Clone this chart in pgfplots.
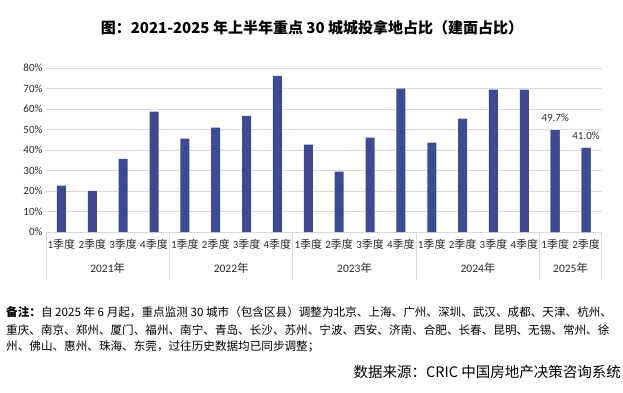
\documentclass[border=0pt]{standalone}
\usepackage{pgfplots}
\pgfplotsset{compat=1.18}
\usepackage{fontspec}
\setmainfont{Carlito}
\newfontfamily\cjk{Noto Sans CJK SC}
\definecolor{barblue}{RGB}{60,75,146}
\definecolor{gridgray}{RGB}{217,217,217}
\definecolor{txt}{RGB}{40,40,40}
\begin{document}
\begin{tikzpicture}
\path[use as bounding box] (0pt,0pt) rectangle (623pt,392pt);
\node[font=\cjk\bfseries\fontsize{15}{17}\selectfont] at (312pt,364pt) {图：2021-2025 年上半年重点 30 城城投拿地占比（建面占比）};
\begin{axis}[at={(46pt,160pt)}, anchor=south west,
  scale only axis, width=555.5pt, height=164pt,
  xmin=-0.5, xmax=17.5, ymin=0, ymax=80,
  ybar, bar width=9pt, bar shift=0pt,
  axis lines*=left, y axis line style={draw=none},
  x axis line style={draw=gridgray, line width=0.8pt},
  ymajorgrids, grid style={gridgray, line width=0.8pt},
  ytick={0,10,...,80}, yticklabel={\pgfmathprintnumber{\tick}\%},
  major tick length=0pt,
  xtick={0,...,17},
  xticklabels={{1{\cjk 季度}},{2{\cjk 季度}},{3{\cjk 季度}},{4{\cjk 季度}},{1{\cjk 季度}},{2{\cjk 季度}},{3{\cjk 季度}},{4{\cjk 季度}},{1{\cjk 季度}},{2{\cjk 季度}},{3{\cjk 季度}},{4{\cjk 季度}},{1{\cjk 季度}},{2{\cjk 季度}},{3{\cjk 季度}},{4{\cjk 季度}},{1{\cjk 季度}},{2{\cjk 季度}}},
  xticklabel style={anchor=center, yshift=-12pt},
  tick label style={font=\fontsize{11}{12}\selectfont, text=txt},
  /pgf/number format/assume math mode=true,
  clip=false, enlargelimits=false,
]
\addplot[fill=barblue, draw=none] coordinates {
 (0,22.6) (1,20.1) (2,35.7) (3,58.7)
 (4,45.5) (5,50.9) (6,56.7) (7,76.2)
 (8,42.6) (9,29.4) (10,46.0) (11,69.9)
 (12,43.6) (13,55.3) (14,69.4) (15,69.4)
 (16,49.7) (17,41.0)};
\addplot[fill=barblue, draw=none,
  nodes near coords={\pgfmathprintnumber[fixed,fixed zerofill,precision=1]{\pgfplotspointmeta}\%},
  every node near coord/.append style={font=\fontsize{11}{12}\selectfont, text=txt, yshift=5pt}]
  coordinates {(16,49.7) (17,41.0)};
\foreach \xx in {-0.5,3.5,7.5,11.5,15.5,17.5} {
  \edef\tmp{\noexpand\draw[gridgray, line width=0.8pt] (axis cs:\xx,0) -- ++(0pt,-48pt);}\tmp
}
\node[font=\fontsize{11.5}{12}\selectfont, text=txt] at (axis cs:1.5,0) [yshift=-36pt] {2021{\cjk 年}};
\node[font=\fontsize{11.5}{12}\selectfont, text=txt] at (axis cs:5.5,0) [yshift=-36pt] {2022{\cjk 年}};
\node[font=\fontsize{11.5}{12}\selectfont, text=txt] at (axis cs:9.5,0) [yshift=-36pt] {2023{\cjk 年}};
\node[font=\fontsize{11.5}{12}\selectfont, text=txt] at (axis cs:13.5,0) [yshift=-36pt] {2024{\cjk 年}};
\node[font=\fontsize{11.5}{12}\selectfont, text=txt] at (axis cs:16.5,0) [yshift=-36pt] {2025{\cjk 年}};
\end{axis}
\begin{scope}[every node/.style={anchor=west, inner sep=0pt, font=\cjk\fontsize{11.6}{14}\selectfont}]
\node at (6pt,80pt) {{\bfseries 备注：}自 2025 年 6 月起，重点监测 30 城市（包含区县）调整为北京、上海、广州、深圳、武汉、成都、天津、杭州、};
\node at (6pt,62pt) {重庆、南京、郑州、厦门、福州、南宁、青岛、长沙、苏州、宁波、西安、济南、合肥、长春、昆明、无锡、常州、徐};
\node at (6pt,45pt) {州、佛山、惠州、珠海、东莞，过往历史数据均已同步调整；};
\end{scope}
\node[anchor=east, inner sep=0pt, font=\cjk\fontsize{14.5}{16}\selectfont] at (621pt,20pt) {数据来源：CRIC 中国房地产决策咨询系统};
\end{tikzpicture}
\end{document}
